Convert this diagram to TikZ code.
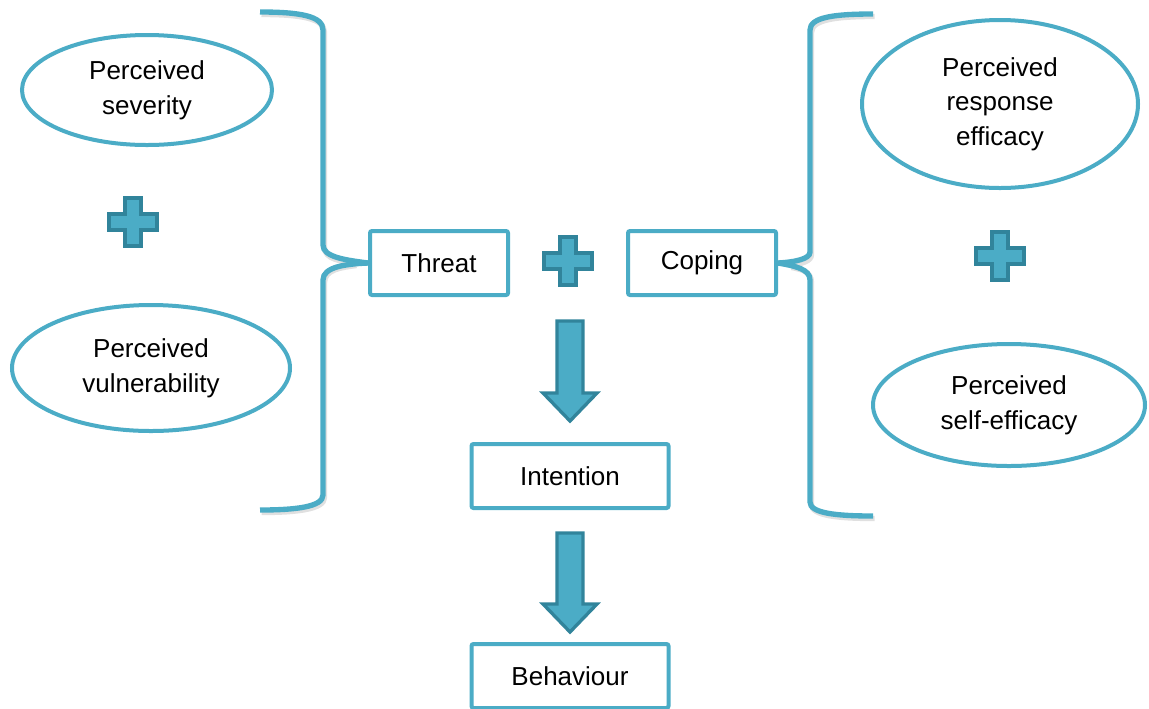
\documentclass[tikz,border=0pt]{standalone}
\usepackage{fontspec}
\setmainfont{Liberation Sans}
\usetikzlibrary{shapes.geometric}
\definecolor{teal}{HTML}{4BACC6}
\definecolor{tealdark}{HTML}{31849B}
\def\px{0.75pt}
\begin{document}
\begin{tikzpicture}[x=0.75pt,y=-0.75pt,
  every node/.style={font=\fontsize{19.5}{26}\selectfont, align=center, text=black},
  oval/.style={ellipse, draw=teal, line width=3pt, fill=white, inner sep=0pt},
  box/.style={draw=teal, line width=3pt, fill=white, rounded corners=1.5pt, inner sep=0pt},
  brace/.style={draw=teal, line width=4pt, line cap=butt},
  braceshadow/.style={draw=black!12, line width=4pt},
  plusmark/.style={fill=teal, draw=tealdark, line width=2.5pt, line join=miter},
  blockarrow/.style={fill=teal, draw=tealdark, line width=2.5pt, line join=miter}]
\useasboundingbox (0,0) rectangle (1149,708);

% ovals
\node[oval, minimum width=250*\px, minimum height=110*\px] (sev) at (147,90) {Perceived\\severity};
\node[oval, minimum width=278*\px, minimum height=126*\px] (vul) at (151,368) {Perceived\\vulnerability};
\node[oval, minimum width=276*\px, minimum height=168*\px] (resp) at (1000,104) {Perceived\\response\\efficacy};
\node[oval, minimum width=272*\px, minimum height=122*\px] (self) at (1009,405) {Perceived\\self-efficacy};

% boxes
\node[box, minimum width=138*\px, minimum height=64*\px] (threat) at (439,263) {Threat};
\node[box, minimum width=148*\px, minimum height=64*\px] (coping) at (702,263) {Coping};
\node[box, minimum width=197*\px, minimum height=64*\px] (intent) at (570,476) {Intention};
\node[box, minimum width=197*\px, minimum height=64*\px] (behav) at (570,676) {Behaviour};

% braces (with soft shadow)
\begin{scope}[shift={(1.5,2.5)}]
\path[braceshadow] (260,12) .. controls (300,12) and (323,16) .. (323,30) -- (323,245)
  .. controls (323,257) and (340,259) .. (355,261);
\path[braceshadow] (355,263) .. controls (340,265) and (323,267) .. (323,280) -- (323,495)
  .. controls (323,507) and (295,510) .. (260,510);
\path[braceshadow] (873,14) .. controls (835,14) and (810,17) .. (810,30) -- (810,252)
  .. controls (810,259) and (800,261) .. (790,263);
\path[braceshadow] (790,265) .. controls (800,267) and (810,269) .. (810,280) -- (810,502)
  .. controls (810,513) and (835,516) .. (873,516);
\end{scope}
\path[brace] (260,12) .. controls (300,12) and (323,16) .. (323,30) -- (323,245)
  .. controls (323,257) and (345,260) .. (threat.west);
\path[brace] (threat.west) .. controls (345,264) and (323,267) .. (323,280) -- (323,495)
  .. controls (323,507) and (295,510) .. (260,510);
\path[brace] (873,14) .. controls (835,14) and (810,17) .. (810,30) -- (810,252)
  .. controls (810,259) and (795,262) .. (coping.east);
\path[brace] (coping.east) .. controls (795,266) and (810,269) .. (810,280) -- (810,502)
  .. controls (810,513) and (835,516) .. (873,516);

% plus signs
\foreach \cx/\cy in {133/222, 568/261, 1000/256}{
  \path[plusmark] (\cx-8,\cy-24) -- (\cx+8,\cy-24) -- (\cx+8,\cy-8) -- (\cx+24,\cy-8)
    -- (\cx+24,\cy+8) -- (\cx+8,\cy+8) -- (\cx+8,\cy+24) -- (\cx-8,\cy+24)
    -- (\cx-8,\cy+8) -- (\cx-24,\cy+8) -- (\cx-24,\cy-8) -- (\cx-8,\cy-8) -- cycle;
}

% block arrows
\foreach \ty/\by in {321/421, 533/632}{
  \path[blockarrow] (557,\ty) -- (583,\ty) -- (583,\by-28) -- (597,\by-28) -- (570,\by)
    -- (543,\by-28) -- (557,\by-28) -- cycle;
}
\end{tikzpicture}
\end{document}
